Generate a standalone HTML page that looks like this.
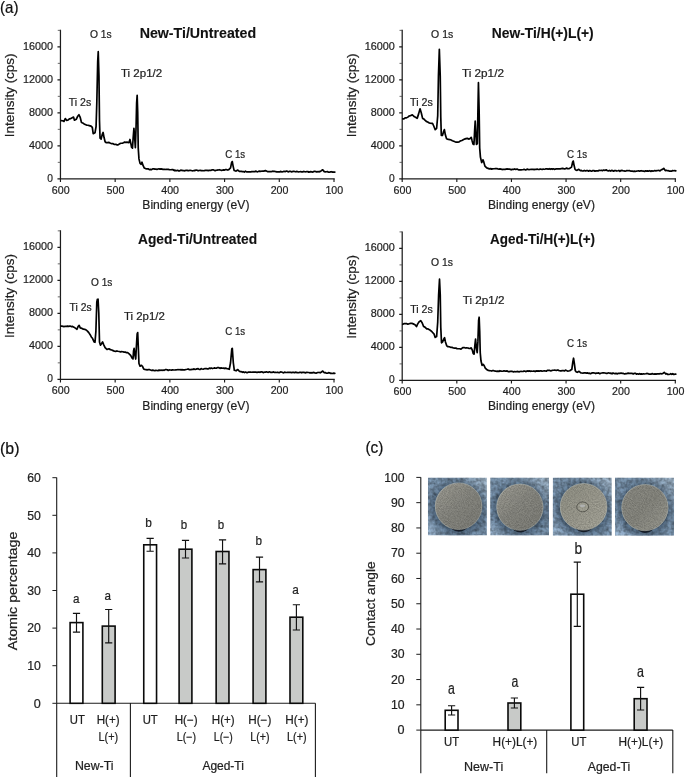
<!DOCTYPE html>
<html lang="en"><head><meta charset="utf-8"><title>XPS spectra, atomic percentage and contact angle</title>
<style>
html,body{margin:0;padding:0;background:#fff;}
body{width:685px;height:777px;overflow:hidden;}
svg{display:block;will-change:transform;font-family:"Liberation Sans",sans-serif;}
</style></head><body>
<svg width="685" height="777" viewBox="0 0 685 777">
<defs>
<filter id="nz" x="0" y="0" width="100%" height="100%"><feTurbulence type="fractalNoise" baseFrequency="0.28" numOctaves="2" seed="3" result="n"/><feColorMatrix in="n" type="matrix" values="0 0 0 0 0  0 0 0 0 0  0 0 0 0 0  0.9 0.9 0.9 0 -1.1"/><feComposite in2="SourceGraphic" operator="in"/></filter>
<filter id="nz2" x="0" y="0" width="100%" height="100%"><feTurbulence type="fractalNoise" baseFrequency="0.25" numOctaves="2" seed="11" result="n"/><feColorMatrix in="n" type="matrix" values="0 0 0 0 0  0 0 0 0 0  0 0 0 0 0  0.9 0.9 0.9 0 -1.1"/><feComposite in2="SourceGraphic" operator="in"/></filter>
<filter id="nzd" x="0" y="0" width="100%" height="100%"><feTurbulence type="fractalNoise" baseFrequency="0.95" numOctaves="2" seed="5" result="n"/><feColorMatrix in="n" type="matrix" values="0 0 0 0 0  0 0 0 0 0  0 0 0 0 0  1.2 1.2 1.2 0 -1.5"/><feComposite in2="SourceGraphic" operator="in"/></filter>
<filter id="halo" x="-50%" y="-50%" width="200%" height="200%"><feGaussianBlur stdDeviation="4.5"/></filter>
<filter id="bl2" x="-50%" y="-50%" width="200%" height="200%"><feGaussianBlur stdDeviation="0.6"/></filter>
<linearGradient id="bg" x1="0" y1="1" x2="1" y2="0"><stop offset="0" stop-color="#aac7e3"/><stop offset="0.3" stop-color="#86a2be"/><stop offset="0.7" stop-color="#839eb8"/><stop offset="1" stop-color="#acc2d6"/></linearGradient>
<linearGradient id="d1" x1="0.1" y1="0.1" x2="0.8" y2="0.9"><stop offset="0" stop-color="#9f9e95"/><stop offset="0.5" stop-color="#8b8b84"/><stop offset="1" stop-color="#83837c"/></linearGradient>
<linearGradient id="d3" x1="0.1" y1="0.1" x2="0.9" y2="0.9"><stop offset="0" stop-color="#96968a"/><stop offset="0.5" stop-color="#a09f93"/><stop offset="1" stop-color="#aaa99d"/></linearGradient>
<linearGradient id="d4" x1="0.1" y1="0.1" x2="0.9" y2="0.9"><stop offset="0" stop-color="#8e8e86"/><stop offset="0.5" stop-color="#8a8a82"/><stop offset="1" stop-color="#9a9a91"/></linearGradient>
</defs>
<rect width="685" height="777" fill="#fff"/>
<path d="M60.45 29.85V178.85H334.70" fill="none" stroke="#1c1c1c" stroke-width="1.25"/>
<path d="M57.45 178.85H60.45M57.45 145.85H60.45M57.45 112.85H60.45M57.45 79.85H60.45M57.45 46.85H60.45M60.45 178.85V181.95M115.16 178.85V181.95M169.87 178.85V181.95M224.58 178.85V181.95M279.29 178.85V181.95M334.00 178.85V181.95" fill="none" stroke="#1c1c1c" stroke-width="1.15"/>
<path d="M57.75 162.35H60.45M57.75 129.35H60.45M57.75 96.35H60.45M57.75 63.35H60.45M57.75 30.35H60.45" fill="none" stroke="#444" stroke-width="0.8"/>
<text x="47.35" y="181.85" font-size="11.0" textLength="5.71" lengthAdjust="spacingAndGlyphs" fill="#1f1f1f" stroke="#1f1f1f" stroke-width="0.22">0</text>
<text x="29.05" y="148.85" font-size="11.0" textLength="24.00" lengthAdjust="spacingAndGlyphs" fill="#1f1f1f" stroke="#1f1f1f" stroke-width="0.22">4000</text>
<text x="29.05" y="115.85" font-size="11.0" textLength="24.00" lengthAdjust="spacingAndGlyphs" fill="#1f1f1f" stroke="#1f1f1f" stroke-width="0.22">8000</text>
<text x="22.95" y="82.85" font-size="11.0" textLength="30.11" lengthAdjust="spacingAndGlyphs" fill="#1f1f1f" stroke="#1f1f1f" stroke-width="0.22">12000</text>
<text x="22.95" y="49.85" font-size="11.0" textLength="30.11" lengthAdjust="spacingAndGlyphs" fill="#1f1f1f" stroke="#1f1f1f" stroke-width="0.22">16000</text>
<text x="51.85" y="193.65" font-size="11.0" textLength="17.78" lengthAdjust="spacingAndGlyphs" fill="#1f1f1f" stroke="#1f1f1f" stroke-width="0.22">600</text>
<text x="106.56" y="193.65" font-size="11.0" textLength="17.78" lengthAdjust="spacingAndGlyphs" fill="#1f1f1f" stroke="#1f1f1f" stroke-width="0.22">500</text>
<text x="161.27" y="193.65" font-size="11.0" textLength="17.78" lengthAdjust="spacingAndGlyphs" fill="#1f1f1f" stroke="#1f1f1f" stroke-width="0.22">400</text>
<text x="215.98" y="193.65" font-size="11.0" textLength="17.78" lengthAdjust="spacingAndGlyphs" fill="#1f1f1f" stroke="#1f1f1f" stroke-width="0.22">300</text>
<text x="270.69" y="193.65" font-size="11.0" textLength="17.78" lengthAdjust="spacingAndGlyphs" fill="#1f1f1f" stroke="#1f1f1f" stroke-width="0.22">200</text>
<text x="325.40" y="193.65" font-size="11.0" textLength="17.78" lengthAdjust="spacingAndGlyphs" fill="#1f1f1f" stroke="#1f1f1f" stroke-width="0.22">100</text>
<path d="M61.31 120.72 L62.66 120.75 L64.01 121.44 L65.27 118.56 L66.71 120.36 L68.06 119.95 L69.41 118.92 L70.77 118.62 L72.12 117.84 L73.56 117.12 L74.46 120.18 L76.26 119.28 L77.52 116.58 L78.96 114.77 L80.23 117.48 L81.49 122.52 L82.66 122.93 L83.83 123.78 L85.18 124.41 L86.53 125.05 L87.88 125.27 L89.23 125.59 L91.04 126.13 L92.30 127.39 L93.20 133.69 L95.00 132.79 L96.08 126.49 L96.80 103.06 L97.70 61.62 L98.24 51.71 L98.96 76.04 L99.50 121.08 L100.05 138.20 L101.13 139.10 L102.21 134.59 L103.11 132.43 L104.01 137.30 L105.09 141.80 L106.35 142.70 L107.70 142.66 L109.05 142.34 L110.41 143.23 L111.76 143.60 L113.11 143.69 L114.46 144.50 L115.81 144.35 L117.16 145.05 L118.51 144.63 L119.86 143.60 L121.07 143.24 L122.27 143.24 L123.47 142.70 L124.67 142.07 L125.87 142.29 L127.07 142.16 L128.87 142.70 L129.95 139.46 L130.68 142.70 L131.58 147.21 L132.48 148.11 L133.20 137.30 L133.92 128.29 L134.64 137.30 L135.36 147.75 L136.08 126.49 L136.62 103.06 L137.16 95.32 L137.70 112.07 L138.24 148.11 L138.96 158.92 L140.05 163.42 L141.13 164.32 L142.03 162.16 L142.93 165.23 L144.19 167.93 L145.54 168.58 L146.89 168.83 L148.09 168.76 L149.29 169.59 L150.50 169.37 L151.58 169.66 L152.66 168.80 L153.74 168.73 L154.82 169.12 L155.90 169.01 L156.93 169.46 L157.96 169.01 L158.99 168.91 L160.02 169.14 L161.05 168.84 L162.08 169.07 L163.11 169.37 L164.14 169.36 L165.17 169.47 L166.20 169.28 L167.23 169.33 L168.26 169.37 L169.29 169.64 L170.32 169.73 L171.49 169.63 L172.66 169.48 L173.83 170.30 L175.00 170.09 L174.51 170.60 L175.56 170.63 L176.61 170.69 L177.65 170.26 L178.70 170.96 L179.75 170.82 L180.79 170.14 L181.84 170.31 L182.89 170.63 L183.93 170.60 L184.98 170.79 L186.03 170.30 L187.08 170.35 L188.08 170.67 L189.09 170.54 L190.09 170.23 L191.10 170.50 L192.10 170.78 L193.11 170.76 L194.11 170.47 L195.12 170.57 L196.12 170.08 L197.13 170.29 L198.13 170.80 L199.14 170.48 L200.14 170.28 L201.15 170.63 L202.15 170.60 L203.16 170.75 L204.16 170.69 L205.17 170.39 L206.17 170.41 L207.18 170.44 L208.18 170.65 L209.19 170.39 L210.19 170.24 L211.20 170.29 L212.20 169.84 L213.21 169.82 L214.21 170.38 L215.22 170.60 L216.22 170.22 L217.23 170.10 L218.28 169.96 L219.33 169.71 L220.38 169.97 L221.43 170.35 L222.48 170.12 L223.53 169.86 L224.58 170.10 L225.63 169.49 L226.68 169.70 L227.73 170.05 L228.78 169.60 L230.54 167.84 L231.55 162.81 L232.30 161.56 L233.06 165.83 L234.06 170.35 L235.07 170.80 L236.07 171.11 L237.83 170.10 L239.34 171.36 L240.34 171.40 L241.35 171.32 L242.35 171.61 L243.40 171.65 L244.45 172.02 L245.49 171.16 L246.54 171.86 L247.59 171.90 L248.63 171.96 L249.68 171.82 L250.73 171.89 L251.77 171.62 L252.82 171.66 L253.87 171.54 L254.91 171.61 L256.01 171.15 L257.11 171.82 L258.21 171.48 L259.31 171.09 L260.41 171.30 L261.51 171.22 L262.61 171.04 L263.71 171.11 L265.47 170.60 L266.47 170.97 L267.48 171.61 L268.51 171.64 L269.55 171.72 L270.58 171.71 L271.62 171.57 L272.65 171.18 L273.68 171.36 L274.72 171.32 L275.75 171.68 L276.79 171.93 L277.82 171.88 L278.86 171.88 L279.89 171.89 L280.93 171.39 L281.96 171.92 L283.00 171.76 L284.03 171.23 L285.07 171.61 L286.10 171.19 L287.13 171.20 L288.17 171.88 L289.20 171.44 L290.24 171.33 L291.27 171.81 L292.31 171.57 L293.34 171.34 L294.38 171.43 L295.41 171.78 L296.45 171.47 L297.48 171.58 L298.51 171.99 L299.55 171.77 L300.58 171.67 L301.62 171.82 L302.65 171.86 L303.67 171.43 L304.69 171.76 L305.72 171.79 L306.74 171.58 L307.76 171.51 L308.78 172.22 L309.80 171.87 L310.82 171.60 L311.84 171.95 L312.86 172.14 L313.88 171.43 L314.90 171.43 L315.92 171.54 L316.94 172.06 L317.96 171.55 L318.98 171.86 L320.24 171.42 L321.50 170.60 L322.75 169.85 L324.26 171.61 L325.32 171.82 L326.37 171.75 L327.43 171.51 L328.48 172.24 L329.54 172.13 L330.59 171.92 L331.65 171.71 L332.70 172.14 L333.76 171.97 L334.81 172.11" fill="none" stroke="#000" stroke-width="1.7" stroke-linejoin="round" stroke-linecap="round"/>
<text x="139.70" y="38.30" font-size="14" textLength="116.40" lengthAdjust="spacingAndGlyphs" font-weight="bold" fill="#111" stroke="#111" stroke-width="0.12">New-Ti/Untreated</text>
<text x="90.00" y="37.70" font-size="10.6" textLength="21.72" lengthAdjust="spacingAndGlyphs" fill="#1f1f1f" stroke="#1f1f1f" stroke-width="0.22">O 1s</text>
<text x="121.00" y="76.90" font-size="10.6" textLength="41.21" lengthAdjust="spacingAndGlyphs" fill="#1f1f1f" stroke="#1f1f1f" stroke-width="0.22">Ti 2p1/2</text>
<text x="68.70" y="105.50" font-size="10.6" textLength="22.50" lengthAdjust="spacingAndGlyphs" fill="#1f1f1f" stroke="#1f1f1f" stroke-width="0.22">Ti 2s</text>
<text x="225.30" y="157.50" font-size="10.6" textLength="19.91" lengthAdjust="spacingAndGlyphs" fill="#1f1f1f" stroke="#1f1f1f" stroke-width="0.22">C 1s</text>
<g transform="translate(14.40,137.30) rotate(-90)"><text x="0.00" y="0.00" font-size="13.0" textLength="83.89" lengthAdjust="spacingAndGlyphs" fill="#1f1f1f" stroke="#1f1f1f" stroke-width="0.22">Intensity (cps)</text></g>
<path d="M402.20 29.85V178.85H676.00" fill="none" stroke="#1c1c1c" stroke-width="1.25"/>
<path d="M399.20 178.85H402.20M399.20 145.85H402.20M399.20 112.85H402.20M399.20 79.85H402.20M399.20 46.85H402.20M402.20 178.85V181.95M456.82 178.85V181.95M511.44 178.85V181.95M566.06 178.85V181.95M620.68 178.85V181.95M675.30 178.85V181.95" fill="none" stroke="#1c1c1c" stroke-width="1.15"/>
<path d="M399.50 162.35H402.20M399.50 129.35H402.20M399.50 96.35H402.20M399.50 63.35H402.20M399.50 30.35H402.20" fill="none" stroke="#444" stroke-width="0.8"/>
<text x="389.10" y="181.85" font-size="11.0" textLength="5.71" lengthAdjust="spacingAndGlyphs" fill="#1f1f1f" stroke="#1f1f1f" stroke-width="0.22">0</text>
<text x="370.80" y="148.85" font-size="11.0" textLength="24.00" lengthAdjust="spacingAndGlyphs" fill="#1f1f1f" stroke="#1f1f1f" stroke-width="0.22">4000</text>
<text x="370.80" y="115.85" font-size="11.0" textLength="24.00" lengthAdjust="spacingAndGlyphs" fill="#1f1f1f" stroke="#1f1f1f" stroke-width="0.22">8000</text>
<text x="364.70" y="82.85" font-size="11.0" textLength="30.11" lengthAdjust="spacingAndGlyphs" fill="#1f1f1f" stroke="#1f1f1f" stroke-width="0.22">12000</text>
<text x="364.70" y="49.85" font-size="11.0" textLength="30.11" lengthAdjust="spacingAndGlyphs" fill="#1f1f1f" stroke="#1f1f1f" stroke-width="0.22">16000</text>
<text x="393.60" y="193.65" font-size="11.0" textLength="17.78" lengthAdjust="spacingAndGlyphs" fill="#1f1f1f" stroke="#1f1f1f" stroke-width="0.22">600</text>
<text x="448.22" y="193.65" font-size="11.0" textLength="17.78" lengthAdjust="spacingAndGlyphs" fill="#1f1f1f" stroke="#1f1f1f" stroke-width="0.22">500</text>
<text x="502.84" y="193.65" font-size="11.0" textLength="17.78" lengthAdjust="spacingAndGlyphs" fill="#1f1f1f" stroke="#1f1f1f" stroke-width="0.22">400</text>
<text x="557.46" y="193.65" font-size="11.0" textLength="17.78" lengthAdjust="spacingAndGlyphs" fill="#1f1f1f" stroke="#1f1f1f" stroke-width="0.22">300</text>
<text x="612.08" y="193.65" font-size="11.0" textLength="17.78" lengthAdjust="spacingAndGlyphs" fill="#1f1f1f" stroke="#1f1f1f" stroke-width="0.22">200</text>
<text x="666.70" y="193.65" font-size="11.0" textLength="17.78" lengthAdjust="spacingAndGlyphs" fill="#1f1f1f" stroke="#1f1f1f" stroke-width="0.22">100</text>
<path d="M402.77 118.92 L403.94 118.79 L405.11 117.84 L406.46 117.88 L407.81 117.12 L409.16 116.00 L410.51 115.68 L412.32 114.77 L414.12 116.58 L415.92 117.48 L417.18 118.38 L418.62 113.87 L420.06 108.83 L421.32 112.97 L422.59 118.38 L423.76 118.91 L424.93 120.18 L426.28 121.38 L427.63 121.98 L428.98 122.82 L430.33 123.24 L431.41 123.40 L432.50 123.24 L433.94 126.49 L435.20 129.73 L436.64 128.29 L437.72 115.68 L438.44 76.04 L439.34 49.37 L440.24 76.04 L440.78 117.48 L441.32 135.50 L442.41 135.50 L443.49 131.89 L444.39 129.55 L445.29 134.59 L446.55 138.74 L448.35 139.46 L449.70 139.56 L451.05 140.00 L452.41 140.73 L453.76 141.26 L455.11 141.81 L456.46 142.16 L457.81 142.06 L459.16 141.80 L460.51 140.86 L461.86 140.54 L463.22 139.76 L464.57 139.10 L465.92 138.64 L467.27 138.38 L469.07 139.10 L470.33 138.20 L471.23 137.30 L472.14 140.90 L473.04 144.14 L473.94 144.50 L474.66 130.09 L475.20 121.08 L475.92 133.69 L476.46 144.50 L477.36 143.60 L477.90 112.07 L478.44 82.70 L479.16 112.07 L479.70 148.11 L480.42 157.12 L481.68 162.52 L482.95 159.82 L483.85 162.16 L484.93 166.13 L486.73 167.93 L488.05 168.37 L489.37 168.85 L490.69 168.65 L491.72 169.10 L492.75 168.79 L493.78 168.75 L494.81 168.65 L495.84 168.49 L496.87 168.53 L497.90 169.01 L498.93 169.03 L499.96 168.95 L500.99 169.06 L502.02 169.57 L503.05 169.29 L504.08 169.37 L505.11 169.37 L506.14 169.13 L507.17 168.94 L508.20 169.21 L509.23 169.04 L510.26 169.38 L511.29 169.82 L512.32 169.37 L513.49 169.44 L514.66 168.90 L515.83 169.45 L517.00 169.01 L518.03 169.60 L519.03 169.84 L520.04 169.76 L521.04 169.89 L522.05 169.73 L523.05 169.73 L524.06 169.32 L525.06 169.85 L526.07 169.81 L527.07 169.07 L528.08 169.35 L529.08 169.56 L530.09 169.51 L531.09 169.26 L532.10 169.31 L533.10 169.25 L534.11 169.63 L535.11 169.23 L536.12 169.51 L537.12 169.06 L538.13 169.52 L539.13 169.52 L540.14 169.11 L541.14 169.19 L542.15 169.49 L543.15 169.10 L544.16 169.28 L545.16 169.05 L546.17 168.79 L547.17 168.87 L548.18 169.19 L549.18 168.69 L550.19 169.35 L551.19 168.75 L552.20 169.31 L553.20 168.76 L554.21 169.32 L555.21 169.08 L556.22 168.88 L557.22 168.88 L558.23 168.84 L559.28 168.93 L560.33 168.83 L561.38 168.54 L562.43 168.40 L563.48 168.63 L564.53 168.96 L565.58 168.64 L566.63 168.10 L567.68 168.72 L568.73 168.59 L569.78 168.34 L571.54 167.09 L572.55 162.31 L573.30 161.06 L574.06 165.33 L575.06 169.35 L576.07 170.22 L577.07 170.35 L578.83 169.35 L580.34 170.60 L581.34 170.41 L582.35 170.99 L583.35 170.85 L584.40 170.46 L585.45 170.99 L586.49 170.65 L587.54 170.61 L588.59 171.19 L589.63 170.50 L590.68 170.87 L591.73 171.17 L592.77 170.62 L593.82 170.59 L594.87 171.20 L595.91 170.85 L597.01 170.72 L598.11 170.92 L599.21 170.24 L600.31 170.48 L601.41 170.24 L602.51 170.63 L603.61 170.04 L604.71 170.35 L606.47 169.85 L607.47 170.76 L608.48 170.85 L609.51 170.43 L610.55 171.06 L611.58 170.42 L612.62 170.63 L613.65 171.14 L614.68 170.55 L615.72 170.57 L616.75 171.03 L617.79 170.75 L618.82 170.44 L619.86 171.30 L620.89 170.54 L621.93 170.44 L622.96 170.71 L624.00 170.96 L625.03 171.07 L626.07 170.85 L627.10 170.52 L628.13 170.74 L629.17 170.48 L630.20 170.87 L631.24 171.17 L632.27 171.16 L633.31 171.32 L634.34 171.20 L635.38 171.31 L636.41 171.19 L637.45 170.99 L638.48 170.78 L639.51 171.19 L640.55 170.90 L641.58 170.72 L642.62 171.04 L643.65 171.11 L644.67 171.43 L645.69 170.74 L646.72 171.13 L647.74 170.95 L648.76 171.04 L649.78 170.69 L650.80 171.41 L651.82 170.76 L652.84 171.06 L653.86 170.88 L654.88 170.50 L655.90 170.97 L656.92 170.58 L657.94 170.49 L658.96 170.45 L659.98 170.85 L661.24 169.80 L662.50 169.35 L663.75 168.34 L665.26 170.60 L666.32 170.26 L667.37 170.77 L668.43 170.69 L669.48 171.14 L670.54 171.12 L671.59 171.20 L672.65 170.54 L673.70 170.75 L674.76 170.60 L675.81 170.85" fill="none" stroke="#000" stroke-width="1.7" stroke-linejoin="round" stroke-linecap="round"/>
<text x="491.80" y="38.30" font-size="14" textLength="101.91" lengthAdjust="spacingAndGlyphs" font-weight="bold" fill="#111" stroke="#111" stroke-width="0.12">New-Ti/H(+)L(+)</text>
<text x="431.10" y="37.70" font-size="10.6" textLength="22.12" lengthAdjust="spacingAndGlyphs" fill="#1f1f1f" stroke="#1f1f1f" stroke-width="0.22">O 1s</text>
<text x="462.00" y="77.20" font-size="10.6" textLength="41.91" lengthAdjust="spacingAndGlyphs" fill="#1f1f1f" stroke="#1f1f1f" stroke-width="0.22">Ti 2p1/2</text>
<text x="410.10" y="105.50" font-size="10.6" textLength="22.70" lengthAdjust="spacingAndGlyphs" fill="#1f1f1f" stroke="#1f1f1f" stroke-width="0.22">Ti 2s</text>
<text x="567.00" y="157.50" font-size="10.6" textLength="20.01" lengthAdjust="spacingAndGlyphs" fill="#1f1f1f" stroke="#1f1f1f" stroke-width="0.22">C 1s</text>
<g transform="translate(356.00,137.30) rotate(-90)"><text x="0.00" y="0.00" font-size="13.0" textLength="83.89" lengthAdjust="spacingAndGlyphs" fill="#1f1f1f" stroke="#1f1f1f" stroke-width="0.22">Intensity (cps)</text></g>
<path d="M60.45 230.35V379.35H334.70" fill="none" stroke="#1c1c1c" stroke-width="1.25"/>
<path d="M57.45 379.35H60.45M57.45 346.35H60.45M57.45 313.35H60.45M57.45 280.35H60.45M57.45 247.35H60.45M60.45 379.35V382.45M115.16 379.35V382.45M169.87 379.35V382.45M224.58 379.35V382.45M279.29 379.35V382.45M334.00 379.35V382.45" fill="none" stroke="#1c1c1c" stroke-width="1.15"/>
<path d="M57.75 362.85H60.45M57.75 329.85H60.45M57.75 296.85H60.45M57.75 263.85H60.45M57.75 230.85H60.45" fill="none" stroke="#444" stroke-width="0.8"/>
<text x="47.35" y="382.35" font-size="11.0" textLength="5.71" lengthAdjust="spacingAndGlyphs" fill="#1f1f1f" stroke="#1f1f1f" stroke-width="0.22">0</text>
<text x="29.05" y="349.35" font-size="11.0" textLength="24.00" lengthAdjust="spacingAndGlyphs" fill="#1f1f1f" stroke="#1f1f1f" stroke-width="0.22">4000</text>
<text x="29.05" y="316.35" font-size="11.0" textLength="24.00" lengthAdjust="spacingAndGlyphs" fill="#1f1f1f" stroke="#1f1f1f" stroke-width="0.22">8000</text>
<text x="22.95" y="283.35" font-size="11.0" textLength="30.11" lengthAdjust="spacingAndGlyphs" fill="#1f1f1f" stroke="#1f1f1f" stroke-width="0.22">12000</text>
<text x="22.95" y="250.35" font-size="11.0" textLength="30.11" lengthAdjust="spacingAndGlyphs" fill="#1f1f1f" stroke="#1f1f1f" stroke-width="0.22">16000</text>
<text x="51.85" y="394.15" font-size="11.0" textLength="17.78" lengthAdjust="spacingAndGlyphs" fill="#1f1f1f" stroke="#1f1f1f" stroke-width="0.22">600</text>
<text x="106.56" y="394.15" font-size="11.0" textLength="17.78" lengthAdjust="spacingAndGlyphs" fill="#1f1f1f" stroke="#1f1f1f" stroke-width="0.22">500</text>
<text x="161.27" y="394.15" font-size="11.0" textLength="17.78" lengthAdjust="spacingAndGlyphs" fill="#1f1f1f" stroke="#1f1f1f" stroke-width="0.22">400</text>
<text x="215.98" y="394.15" font-size="11.0" textLength="17.78" lengthAdjust="spacingAndGlyphs" fill="#1f1f1f" stroke="#1f1f1f" stroke-width="0.22">300</text>
<text x="270.69" y="394.15" font-size="11.0" textLength="17.78" lengthAdjust="spacingAndGlyphs" fill="#1f1f1f" stroke="#1f1f1f" stroke-width="0.22">200</text>
<text x="325.40" y="394.15" font-size="11.0" textLength="17.78" lengthAdjust="spacingAndGlyphs" fill="#1f1f1f" stroke="#1f1f1f" stroke-width="0.22">100</text>
<path d="M60.95 326.05 L61.97 325.99 L62.99 326.45 L64.01 326.59 L65.21 326.29 L66.41 326.32 L67.61 326.05 L68.81 326.34 L70.02 326.01 L71.22 326.59 L72.57 326.42 L73.92 327.13 L75.72 328.39 L76.98 329.29 L78.06 326.59 L79.14 325.32 L80.23 327.85 L82.03 328.39 L83.38 329.14 L84.73 329.29 L86.08 329.97 L87.43 331.09 L88.78 332.65 L90.14 334.69 L91.31 336.94 L92.48 338.30 L94.10 341.90 L95.00 342.26 L95.90 331.09 L96.80 302.26 L97.34 299.38 L98.06 299.20 L98.78 313.07 L99.50 341.90 L100.41 345.14 L101.49 343.70 L102.57 341.90 L103.65 344.60 L105.09 347.67 L106.89 349.47 L107.97 349.08 L109.05 348.75 L110.41 349.68 L111.76 350.01 L113.11 350.62 L114.46 351.27 L115.66 351.40 L116.86 350.96 L118.06 351.27 L119.26 351.51 L120.47 351.84 L121.67 351.63 L122.87 351.77 L124.07 352.09 L125.27 351.99 L126.47 352.69 L127.67 352.68 L128.87 353.61 L130.68 355.41 L132.12 358.12 L133.02 359.02 L133.56 350.91 L134.10 348.39 L134.82 354.51 L135.72 359.02 L136.44 345.50 L137.16 333.79 L137.70 332.53 L138.24 345.50 L138.96 363.52 L140.05 366.23 L141.49 365.32 L142.39 366.23 L143.65 368.93 L144.82 369.52 L145.99 369.65 L147.12 369.82 L148.24 369.65 L149.37 369.50 L150.50 370.01 L151.58 370.41 L152.66 370.13 L153.74 370.42 L154.82 370.64 L155.90 370.37 L156.93 370.51 L157.96 370.65 L158.99 370.12 L160.02 370.43 L161.05 370.06 L162.08 370.45 L163.11 370.01 L164.14 370.35 L165.17 369.65 L166.20 369.68 L167.23 369.75 L168.26 370.43 L169.29 369.95 L170.32 370.01 L171.49 370.12 L172.66 369.83 L173.83 370.02 L175.00 370.01 L176.01 369.79 L177.03 369.77 L178.03 369.59 L179.04 369.75 L180.04 369.70 L181.05 369.94 L182.05 369.69 L183.06 369.86 L184.06 369.74 L185.07 369.81 L186.07 369.48 L187.08 369.27 L188.08 368.95 L189.09 369.56 L190.09 369.64 L191.10 369.57 L192.10 369.25 L193.11 369.36 L194.11 368.89 L195.12 369.44 L196.12 369.19 L197.13 368.91 L198.13 368.69 L199.14 369.39 L200.14 369.49 L201.15 368.67 L202.15 369.02 L203.18 369.22 L204.21 368.80 L205.23 368.50 L206.26 368.56 L207.29 368.92 L208.32 368.94 L209.35 368.13 L210.37 368.57 L211.40 367.99 L212.43 368.53 L213.46 368.27 L214.53 367.93 L215.59 368.23 L216.66 368.13 L217.73 367.51 L218.86 367.71 L219.99 368.34 L221.12 367.91 L222.25 368.27 L223.26 367.99 L224.26 368.56 L225.27 368.15 L226.27 368.40 L227.28 368.77 L228.28 368.94 L229.29 369.27 L230.54 362.74 L231.80 348.92 L232.30 348.42 L233.31 362.74 L234.31 370.28 L236.07 370.78 L237.83 369.52 L239.34 371.28 L240.34 371.72 L241.35 371.64 L242.35 372.29 L243.40 371.85 L244.45 372.58 L245.49 372.06 L246.54 372.62 L247.59 372.54 L248.63 372.05 L249.68 372.10 L250.73 372.14 L251.77 372.23 L252.82 372.16 L253.87 372.11 L254.91 372.04 L255.95 372.16 L256.98 372.46 L258.02 372.09 L259.05 372.03 L260.09 372.31 L261.12 371.89 L262.16 371.96 L263.19 372.58 L264.23 372.19 L265.26 372.23 L266.30 371.76 L267.33 372.14 L268.36 372.30 L269.40 371.81 L270.43 372.36 L271.47 372.39 L272.50 372.29 L273.51 371.90 L274.51 372.42 L275.52 372.29 L276.52 372.49 L277.53 372.20 L278.53 372.53 L279.54 372.57 L280.54 371.94 L281.55 371.98 L282.55 372.55 L283.56 372.81 L284.56 372.18 L285.57 372.38 L286.57 372.51 L287.58 372.28 L288.58 372.32 L289.59 372.29 L290.59 372.35 L291.60 372.56 L292.60 372.31 L293.61 372.39 L294.61 372.75 L295.62 372.09 L296.62 372.59 L297.63 372.54 L298.66 372.76 L299.68 372.39 L300.71 372.32 L301.74 372.86 L302.77 372.36 L303.80 372.32 L304.82 372.56 L305.85 372.81 L306.88 372.28 L307.91 372.49 L308.93 372.51 L309.96 372.97 L310.99 372.63 L312.02 373.02 L313.05 372.41 L314.07 372.57 L315.10 372.87 L316.13 373.09 L317.16 372.71 L318.19 372.52 L319.21 372.44 L320.24 372.79 L321.50 371.94 L322.75 371.03 L324.26 372.79 L325.32 372.56 L326.37 373.17 L327.43 373.24 L328.48 372.71 L329.54 372.84 L330.59 373.37 L331.65 373.27 L332.70 373.47 L333.76 373.10 L334.81 373.29" fill="none" stroke="#000" stroke-width="1.7" stroke-linejoin="round" stroke-linecap="round"/>
<text x="138.00" y="244.20" font-size="14" textLength="119.19" lengthAdjust="spacingAndGlyphs" font-weight="bold" fill="#111" stroke="#111" stroke-width="0.12">Aged-Ti/Untreated</text>
<text x="91.00" y="285.50" font-size="10.6" textLength="21.32" lengthAdjust="spacingAndGlyphs" fill="#1f1f1f" stroke="#1f1f1f" stroke-width="0.22">O 1s</text>
<text x="124.00" y="320.10" font-size="10.6" textLength="40.81" lengthAdjust="spacingAndGlyphs" fill="#1f1f1f" stroke="#1f1f1f" stroke-width="0.22">Ti 2p1/2</text>
<text x="69.60" y="310.60" font-size="10.6" textLength="22.00" lengthAdjust="spacingAndGlyphs" fill="#1f1f1f" stroke="#1f1f1f" stroke-width="0.22">Ti 2s</text>
<text x="225.30" y="334.80" font-size="10.6" textLength="19.91" lengthAdjust="spacingAndGlyphs" fill="#1f1f1f" stroke="#1f1f1f" stroke-width="0.22">C 1s</text>
<text x="142.30" y="410.00" font-size="13.0" textLength="107.18" lengthAdjust="spacingAndGlyphs" fill="#1f1f1f" stroke="#1f1f1f" stroke-width="0.22">Binding energy (eV)</text>
<g transform="translate(14.40,338.00) rotate(-90)"><text x="0.00" y="0.00" font-size="13.0" textLength="83.89" lengthAdjust="spacingAndGlyphs" fill="#1f1f1f" stroke="#1f1f1f" stroke-width="0.22">Intensity (cps)</text></g>
<path d="M402.20 231.40V380.40H676.00" fill="none" stroke="#1c1c1c" stroke-width="1.25"/>
<path d="M399.20 380.40H402.20M399.20 347.40H402.20M399.20 314.40H402.20M399.20 281.40H402.20M399.20 248.40H402.20M402.20 380.40V383.50M456.82 380.40V383.50M511.44 380.40V383.50M566.06 380.40V383.50M620.68 380.40V383.50M675.30 380.40V383.50" fill="none" stroke="#1c1c1c" stroke-width="1.15"/>
<path d="M399.50 363.90H402.20M399.50 330.90H402.20M399.50 297.90H402.20M399.50 264.90H402.20M399.50 231.90H402.20" fill="none" stroke="#444" stroke-width="0.8"/>
<text x="389.10" y="383.40" font-size="11.0" textLength="5.71" lengthAdjust="spacingAndGlyphs" fill="#1f1f1f" stroke="#1f1f1f" stroke-width="0.22">0</text>
<text x="370.80" y="350.40" font-size="11.0" textLength="24.00" lengthAdjust="spacingAndGlyphs" fill="#1f1f1f" stroke="#1f1f1f" stroke-width="0.22">4000</text>
<text x="370.80" y="317.40" font-size="11.0" textLength="24.00" lengthAdjust="spacingAndGlyphs" fill="#1f1f1f" stroke="#1f1f1f" stroke-width="0.22">8000</text>
<text x="364.70" y="284.40" font-size="11.0" textLength="30.11" lengthAdjust="spacingAndGlyphs" fill="#1f1f1f" stroke="#1f1f1f" stroke-width="0.22">12000</text>
<text x="364.70" y="251.40" font-size="11.0" textLength="30.11" lengthAdjust="spacingAndGlyphs" fill="#1f1f1f" stroke="#1f1f1f" stroke-width="0.22">16000</text>
<text x="393.60" y="395.20" font-size="11.0" textLength="17.78" lengthAdjust="spacingAndGlyphs" fill="#1f1f1f" stroke="#1f1f1f" stroke-width="0.22">600</text>
<text x="448.22" y="395.20" font-size="11.0" textLength="17.78" lengthAdjust="spacingAndGlyphs" fill="#1f1f1f" stroke="#1f1f1f" stroke-width="0.22">500</text>
<text x="502.84" y="395.20" font-size="11.0" textLength="17.78" lengthAdjust="spacingAndGlyphs" fill="#1f1f1f" stroke="#1f1f1f" stroke-width="0.22">400</text>
<text x="557.46" y="395.20" font-size="11.0" textLength="17.78" lengthAdjust="spacingAndGlyphs" fill="#1f1f1f" stroke="#1f1f1f" stroke-width="0.22">300</text>
<text x="612.08" y="395.20" font-size="11.0" textLength="17.78" lengthAdjust="spacingAndGlyphs" fill="#1f1f1f" stroke="#1f1f1f" stroke-width="0.22">200</text>
<text x="666.70" y="395.20" font-size="11.0" textLength="17.78" lengthAdjust="spacingAndGlyphs" fill="#1f1f1f" stroke="#1f1f1f" stroke-width="0.22">100</text>
<path d="M402.77 324.24 L403.94 323.65 L405.11 323.52 L406.46 323.53 L407.81 324.24 L409.16 323.70 L410.51 323.34 L411.86 323.30 L413.22 323.88 L415.02 324.78 L416.46 326.59 L417.72 323.88 L419.16 321.72 L420.78 320.64 L422.23 322.98 L423.67 326.59 L424.93 327.13 L426.73 328.93 L428.08 328.90 L429.43 329.65 L430.78 330.73 L432.14 331.99 L433.94 333.79 L435.20 337.40 L436.64 336.50 L437.72 322.08 L438.62 295.05 L439.52 279.20 L440.24 295.05 L440.78 327.49 L441.50 342.80 L442.59 341.90 L443.67 339.20 L444.57 337.76 L445.47 341.90 L446.73 345.86 L447.99 346.69 L449.25 346.77 L450.60 347.31 L451.95 347.31 L453.31 348.00 L454.66 348.21 L455.86 348.14 L457.06 348.60 L458.26 348.75 L459.61 348.73 L460.96 349.11 L462.77 347.67 L464.12 347.55 L465.47 348.03 L466.67 347.79 L467.87 348.01 L469.07 348.39 L470.15 348.50 L471.23 347.85 L472.32 350.01 L473.22 353.61 L474.12 354.15 L474.84 345.50 L475.56 339.20 L476.28 347.31 L477.18 352.71 L477.90 341.90 L478.62 320.28 L479.16 317.22 L479.70 331.09 L480.24 352.71 L480.96 360.82 L482.05 365.32 L483.13 364.42 L484.03 365.32 L485.29 368.03 L487.09 369.83 L488.29 370.43 L489.49 370.71 L490.69 370.73 L491.72 371.05 L492.75 370.56 L493.78 370.71 L494.81 371.05 L495.84 371.20 L496.87 371.36 L497.90 371.09 L498.93 371.43 L499.96 370.72 L500.99 371.19 L502.02 371.24 L503.05 371.10 L504.08 370.80 L505.11 371.09 L506.14 371.12 L507.17 370.82 L508.20 371.64 L509.23 371.62 L510.26 371.39 L511.29 371.22 L512.32 371.45 L513.49 371.82 L514.66 371.52 L515.83 371.79 L517.00 371.45 L518.03 371.53 L519.03 371.82 L520.04 371.49 L521.04 371.38 L522.05 371.52 L523.05 371.34 L524.06 371.08 L525.06 371.18 L526.07 371.61 L527.07 370.90 L528.08 371.28 L529.08 370.86 L530.09 371.36 L531.09 371.03 L532.10 371.25 L533.10 371.17 L534.11 371.04 L535.11 371.61 L536.12 370.87 L537.12 371.05 L538.13 370.85 L539.13 371.22 L540.14 370.88 L541.14 370.93 L542.15 371.27 L543.15 371.03 L544.20 370.81 L545.24 370.96 L546.29 371.21 L547.34 370.42 L548.39 370.32 L549.43 370.41 L550.48 370.83 L551.53 370.63 L552.57 370.23 L553.62 370.25 L554.67 370.05 L555.71 370.28 L556.79 370.28 L557.87 369.94 L558.94 370.56 L560.02 370.78 L561.10 370.87 L562.17 370.70 L563.25 370.53 L564.34 370.98 L565.43 370.18 L566.52 370.46 L567.61 371.11 L568.70 370.98 L569.78 370.78 L570.79 370.07 L571.79 369.52 L572.80 362.24 L573.55 358.22 L574.31 363.24 L575.31 370.78 L576.32 371.93 L577.32 372.29 L579.08 371.28 L580.84 372.79 L581.92 372.97 L582.99 373.22 L584.07 372.82 L585.15 372.80 L586.22 373.10 L587.30 372.89 L588.38 373.29 L589.41 373.18 L590.45 373.71 L591.48 373.14 L592.52 372.85 L593.55 372.88 L594.58 372.99 L595.62 373.55 L596.65 373.17 L597.69 373.10 L598.72 372.93 L599.76 373.73 L600.79 373.22 L601.83 373.03 L602.86 372.89 L603.90 372.89 L604.93 372.99 L605.96 373.29 L606.97 373.46 L607.97 373.00 L608.98 372.92 L609.98 373.33 L610.99 373.13 L611.99 373.81 L613.00 373.04 L614.01 373.42 L615.01 373.65 L616.02 373.34 L617.02 373.87 L618.03 373.42 L619.03 373.22 L620.04 373.39 L621.04 373.06 L622.05 373.42 L623.05 373.28 L624.06 373.87 L625.06 373.83 L626.07 373.54 L627.10 373.56 L628.13 373.15 L629.17 373.37 L630.20 373.37 L631.24 373.35 L632.27 373.39 L633.31 373.98 L634.34 373.34 L635.38 373.27 L636.41 374.08 L637.45 373.76 L638.48 374.16 L639.51 373.65 L640.55 374.11 L641.58 373.90 L642.62 374.04 L643.65 373.79 L644.69 374.01 L645.72 373.79 L646.76 373.43 L647.79 373.53 L648.83 374.13 L649.86 374.15 L650.90 374.18 L651.93 373.65 L652.96 373.94 L654.00 374.06 L655.03 373.92 L656.07 374.08 L657.10 373.82 L658.14 373.93 L659.17 373.96 L660.21 373.59 L661.24 373.79 L662.25 373.67 L663.25 373.20 L664.26 372.29 L665.76 374.05 L666.77 373.66 L667.77 374.47 L668.78 374.46 L669.78 374.20 L670.79 373.64 L671.79 374.40 L672.80 373.71 L673.80 374.47 L674.81 374.20 L675.81 374.05" fill="none" stroke="#000" stroke-width="1.7" stroke-linejoin="round" stroke-linecap="round"/>
<text x="490.00" y="244.40" font-size="14" textLength="105.00" lengthAdjust="spacingAndGlyphs" font-weight="bold" fill="#111" stroke="#111" stroke-width="0.12">Aged-Ti/H(+)L(+)</text>
<text x="431.10" y="266.40" font-size="10.6" textLength="21.92" lengthAdjust="spacingAndGlyphs" fill="#1f1f1f" stroke="#1f1f1f" stroke-width="0.22">O 1s</text>
<text x="462.80" y="303.60" font-size="10.6" textLength="41.81" lengthAdjust="spacingAndGlyphs" fill="#1f1f1f" stroke="#1f1f1f" stroke-width="0.22">Ti 2p1/2</text>
<text x="410.20" y="313.00" font-size="10.6" textLength="22.60" lengthAdjust="spacingAndGlyphs" fill="#1f1f1f" stroke="#1f1f1f" stroke-width="0.22">Ti 2s</text>
<text x="567.00" y="347.00" font-size="10.6" textLength="20.01" lengthAdjust="spacingAndGlyphs" fill="#1f1f1f" stroke="#1f1f1f" stroke-width="0.22">C 1s</text>
<text x="488.00" y="410.00" font-size="13.0" textLength="106.98" lengthAdjust="spacingAndGlyphs" fill="#1f1f1f" stroke="#1f1f1f" stroke-width="0.22">Binding energy (eV)</text>
<g transform="translate(356.00,338.80) rotate(-90)"><text x="0.00" y="0.00" font-size="13.0" textLength="83.89" lengthAdjust="spacingAndGlyphs" fill="#1f1f1f" stroke="#1f1f1f" stroke-width="0.22">Intensity (cps)</text></g>
<text x="142.30" y="209.30" font-size="13.0" textLength="107.18" lengthAdjust="spacingAndGlyphs" fill="#1f1f1f" stroke="#1f1f1f" stroke-width="0.22">Binding energy (eV)</text>
<text x="488.00" y="209.30" font-size="13.0" textLength="106.98" lengthAdjust="spacingAndGlyphs" fill="#1f1f1f" stroke="#1f1f1f" stroke-width="0.22">Binding energy (eV)</text>
<text x="0.00" y="12.80" font-size="17.0" textLength="18.53" lengthAdjust="spacingAndGlyphs" fill="#111" stroke="#111" stroke-width="0.22">(a)</text>
<text x="0.00" y="453.50" font-size="17.0" textLength="19.44" lengthAdjust="spacingAndGlyphs" fill="#111" stroke="#111" stroke-width="0.22">(b)</text>
<text x="365.40" y="453.40" font-size="17.0" textLength="17.92" lengthAdjust="spacingAndGlyphs" fill="#111" stroke="#111" stroke-width="0.22">(c)</text>
<path d="M56.7 477.4V777M56.2 703.3H315.4M130.4 703.3V777M315.4 703.3V777" fill="none" stroke="#1c1c1c" stroke-width="1.1"/>
<text x="33.80" y="707.50" font-size="12.6" textLength="7.01" lengthAdjust="spacingAndGlyphs" fill="#1f1f1f" stroke="#1f1f1f" stroke-width="0.22">0</text>
<text x="27.20" y="669.90" font-size="12.6" textLength="13.63" lengthAdjust="spacingAndGlyphs" fill="#1f1f1f" stroke="#1f1f1f" stroke-width="0.22">10</text>
<text x="27.20" y="632.30" font-size="12.6" textLength="13.63" lengthAdjust="spacingAndGlyphs" fill="#1f1f1f" stroke="#1f1f1f" stroke-width="0.22">20</text>
<text x="27.20" y="594.70" font-size="12.6" textLength="13.63" lengthAdjust="spacingAndGlyphs" fill="#1f1f1f" stroke="#1f1f1f" stroke-width="0.22">30</text>
<text x="27.20" y="557.10" font-size="12.6" textLength="13.63" lengthAdjust="spacingAndGlyphs" fill="#1f1f1f" stroke="#1f1f1f" stroke-width="0.22">40</text>
<text x="27.20" y="519.50" font-size="12.6" textLength="13.63" lengthAdjust="spacingAndGlyphs" fill="#1f1f1f" stroke="#1f1f1f" stroke-width="0.22">50</text>
<text x="27.20" y="481.90" font-size="12.6" textLength="13.63" lengthAdjust="spacingAndGlyphs" fill="#1f1f1f" stroke="#1f1f1f" stroke-width="0.22">60</text>
<path d="M52.40 703.30H56.7M52.40 665.70H56.7M52.40 628.10H56.7M52.40 590.50H56.7M52.40 552.90H56.7M52.40 515.30H56.7M52.40 477.70H56.7" fill="none" stroke="#1c1c1c" stroke-width="1"/>
<g transform="translate(16.80,650.30) rotate(-90)"><text x="0.00" y="0.00" font-size="12.4" textLength="118.67" lengthAdjust="spacingAndGlyphs" fill="#1f1f1f" stroke="#1f1f1f" stroke-width="0.22">Atomic percentage</text></g>
<rect x="70.10" y="622.60" width="12.80" height="80.70" fill="#fff" stroke="#0a0a0a" stroke-width="1.6"/>
<path d="M76.50 613.30V632.10M72.90 613.30h7.2M72.90 632.10h7.2" fill="none" stroke="#111" stroke-width="1.15"/>
<rect x="102.30" y="626.10" width="12.80" height="77.20" fill="#c8cac8" stroke="#0a0a0a" stroke-width="1.6"/>
<path d="M108.70 609.50V642.90M105.10 609.50h7.2M105.10 642.90h7.2" fill="none" stroke="#111" stroke-width="1.15"/>
<rect x="143.75" y="544.80" width="12.80" height="158.50" fill="#fff" stroke="#0a0a0a" stroke-width="1.6"/>
<path d="M150.15 538.40V551.20M146.55 538.40h7.2M146.55 551.20h7.2" fill="none" stroke="#111" stroke-width="1.15"/>
<rect x="179.10" y="549.20" width="12.80" height="154.10" fill="#c8cac8" stroke="#0a0a0a" stroke-width="1.6"/>
<path d="M185.50 540.40V558.00M181.90 540.40h7.2M181.90 558.00h7.2" fill="none" stroke="#111" stroke-width="1.15"/>
<rect x="216.15" y="551.50" width="12.80" height="151.80" fill="#c8cac8" stroke="#0a0a0a" stroke-width="1.6"/>
<path d="M222.55 539.90V563.80M218.95 539.90h7.2M218.95 563.80h7.2" fill="none" stroke="#111" stroke-width="1.15"/>
<rect x="253.10" y="569.60" width="12.80" height="133.70" fill="#c8cac8" stroke="#0a0a0a" stroke-width="1.6"/>
<path d="M259.50 557.10V581.90M255.90 557.10h7.2M255.90 581.90h7.2" fill="none" stroke="#111" stroke-width="1.15"/>
<rect x="290.00" y="617.20" width="12.80" height="86.10" fill="#c8cac8" stroke="#0a0a0a" stroke-width="1.6"/>
<path d="M296.40 604.70V630.00M292.80 604.70h7.2M292.80 630.00h7.2" fill="none" stroke="#111" stroke-width="1.15"/>
<text x="73.00" y="602.60" font-size="12.2" textLength="6.46" lengthAdjust="spacingAndGlyphs" fill="#1f1f1f" stroke="#1f1f1f" stroke-width="0.22">a</text>
<text x="104.60" y="599.60" font-size="12.2" textLength="6.46" lengthAdjust="spacingAndGlyphs" fill="#1f1f1f" stroke="#1f1f1f" stroke-width="0.22">a</text>
<text x="145.30" y="527.00" font-size="12.2" textLength="6.61" lengthAdjust="spacingAndGlyphs" fill="#1f1f1f" stroke="#1f1f1f" stroke-width="0.22">b</text>
<text x="180.80" y="528.80" font-size="12.2" textLength="6.41" lengthAdjust="spacingAndGlyphs" fill="#1f1f1f" stroke="#1f1f1f" stroke-width="0.22">b</text>
<text x="217.80" y="528.80" font-size="12.2" textLength="6.41" lengthAdjust="spacingAndGlyphs" fill="#1f1f1f" stroke="#1f1f1f" stroke-width="0.22">b</text>
<text x="255.40" y="544.80" font-size="12.2" textLength="6.51" lengthAdjust="spacingAndGlyphs" fill="#1f1f1f" stroke="#1f1f1f" stroke-width="0.22">b</text>
<text x="292.30" y="593.60" font-size="12.2" textLength="6.55" lengthAdjust="spacingAndGlyphs" fill="#1f1f1f" stroke="#1f1f1f" stroke-width="0.22">a</text>
<text x="69.80" y="724.30" font-size="11.9" textLength="15.08" lengthAdjust="spacingAndGlyphs" fill="#1f1f1f" stroke="#1f1f1f" stroke-width="0.22">UT</text>
<text x="96.70" y="724.30" font-size="11.9" textLength="22.93" lengthAdjust="spacingAndGlyphs" fill="#1f1f1f" stroke="#1f1f1f" stroke-width="0.22">H(+)</text>
<text x="98.50" y="740.80" font-size="11.9" textLength="19.61" lengthAdjust="spacingAndGlyphs" fill="#1f1f1f" stroke="#1f1f1f" stroke-width="0.22">L(+)</text>
<text x="142.70" y="724.30" font-size="11.9" textLength="15.08" lengthAdjust="spacingAndGlyphs" fill="#1f1f1f" stroke="#1f1f1f" stroke-width="0.22">UT</text>
<text x="174.70" y="724.30" font-size="11.9" textLength="23.03" lengthAdjust="spacingAndGlyphs" fill="#1f1f1f" stroke="#1f1f1f" stroke-width="0.22">H(−)</text>
<text x="176.70" y="740.80" font-size="11.9" textLength="19.31" lengthAdjust="spacingAndGlyphs" fill="#1f1f1f" stroke="#1f1f1f" stroke-width="0.22">L(−)</text>
<text x="211.80" y="724.30" font-size="11.9" textLength="22.83" lengthAdjust="spacingAndGlyphs" fill="#1f1f1f" stroke="#1f1f1f" stroke-width="0.22">H(+)</text>
<text x="213.80" y="740.80" font-size="11.9" textLength="19.01" lengthAdjust="spacingAndGlyphs" fill="#1f1f1f" stroke="#1f1f1f" stroke-width="0.22">L(−)</text>
<text x="248.20" y="724.30" font-size="11.9" textLength="23.13" lengthAdjust="spacingAndGlyphs" fill="#1f1f1f" stroke="#1f1f1f" stroke-width="0.22">H(−)</text>
<text x="250.30" y="740.80" font-size="11.9" textLength="19.31" lengthAdjust="spacingAndGlyphs" fill="#1f1f1f" stroke="#1f1f1f" stroke-width="0.22">L(+)</text>
<text x="285.30" y="724.30" font-size="11.9" textLength="23.13" lengthAdjust="spacingAndGlyphs" fill="#1f1f1f" stroke="#1f1f1f" stroke-width="0.22">H(+)</text>
<text x="287.10" y="740.80" font-size="11.9" textLength="19.51" lengthAdjust="spacingAndGlyphs" fill="#1f1f1f" stroke="#1f1f1f" stroke-width="0.22">L(+)</text>
<text x="74.90" y="769.80" font-size="11.9" textLength="38.69" lengthAdjust="spacingAndGlyphs" fill="#1f1f1f" stroke="#1f1f1f" stroke-width="0.22">New-Ti</text>
<text x="202.40" y="769.60" font-size="11.9" textLength="41.49" lengthAdjust="spacingAndGlyphs" fill="#1f1f1f" stroke="#1f1f1f" stroke-width="0.22">Aged-Ti</text>
<path d="M420.8 477.2V773.3M420.3 730.1H672.8M546.7 730.1V773.3M672.8 730.1V773.3" fill="none" stroke="#1c1c1c" stroke-width="1.1"/>
<text x="397.60" y="734.20" font-size="12.6" textLength="7.01" lengthAdjust="spacingAndGlyphs" fill="#1f1f1f" stroke="#1f1f1f" stroke-width="0.22">0</text>
<text x="391.00" y="708.93" font-size="12.6" textLength="13.63" lengthAdjust="spacingAndGlyphs" fill="#1f1f1f" stroke="#1f1f1f" stroke-width="0.22">10</text>
<text x="391.00" y="683.66" font-size="12.6" textLength="13.63" lengthAdjust="spacingAndGlyphs" fill="#1f1f1f" stroke="#1f1f1f" stroke-width="0.22">20</text>
<text x="391.00" y="658.39" font-size="12.6" textLength="13.63" lengthAdjust="spacingAndGlyphs" fill="#1f1f1f" stroke="#1f1f1f" stroke-width="0.22">30</text>
<text x="391.00" y="633.12" font-size="12.6" textLength="13.63" lengthAdjust="spacingAndGlyphs" fill="#1f1f1f" stroke="#1f1f1f" stroke-width="0.22">40</text>
<text x="391.00" y="607.85" font-size="12.6" textLength="13.63" lengthAdjust="spacingAndGlyphs" fill="#1f1f1f" stroke="#1f1f1f" stroke-width="0.22">50</text>
<text x="391.00" y="582.58" font-size="12.6" textLength="13.63" lengthAdjust="spacingAndGlyphs" fill="#1f1f1f" stroke="#1f1f1f" stroke-width="0.22">60</text>
<text x="391.00" y="557.31" font-size="12.6" textLength="13.63" lengthAdjust="spacingAndGlyphs" fill="#1f1f1f" stroke="#1f1f1f" stroke-width="0.22">70</text>
<text x="391.00" y="532.04" font-size="12.6" textLength="13.63" lengthAdjust="spacingAndGlyphs" fill="#1f1f1f" stroke="#1f1f1f" stroke-width="0.22">80</text>
<text x="391.00" y="506.77" font-size="12.6" textLength="13.63" lengthAdjust="spacingAndGlyphs" fill="#1f1f1f" stroke="#1f1f1f" stroke-width="0.22">90</text>
<text x="384.30" y="481.50" font-size="12.6" textLength="20.28" lengthAdjust="spacingAndGlyphs" fill="#1f1f1f" stroke="#1f1f1f" stroke-width="0.22">100</text>
<path d="M416.30 730.10H420.8M416.30 704.83H420.8M416.30 679.56H420.8M416.30 654.29H420.8M416.30 629.02H420.8M416.30 603.75H420.8M416.30 578.48H420.8M416.30 553.21H420.8M416.30 527.94H420.8M416.30 502.67H420.8M416.30 477.40H420.8" fill="none" stroke="#1c1c1c" stroke-width="1"/>
<g transform="translate(375.00,646.00) rotate(-90)"><text x="0.00" y="0.00" font-size="12.6" textLength="84.61" lengthAdjust="spacingAndGlyphs" fill="#1f1f1f" stroke="#1f1f1f" stroke-width="0.22">Contact angle</text></g>
<rect x="445.20" y="710.30" width="12.80" height="19.80" fill="#fff" stroke="#0a0a0a" stroke-width="1.6"/>
<path d="M451.60 705.70V715.00M448.00 705.70h7.2M448.00 715.00h7.2" fill="none" stroke="#111" stroke-width="1.15"/>
<rect x="508.00" y="703.00" width="12.80" height="27.10" fill="#c8cac8" stroke="#0a0a0a" stroke-width="1.6"/>
<path d="M514.40 698.00V708.00M510.80 698.00h7.2M510.80 708.00h7.2" fill="none" stroke="#111" stroke-width="1.15"/>
<rect x="570.90" y="594.20" width="12.80" height="135.90" fill="#fff" stroke="#0a0a0a" stroke-width="1.6"/>
<path d="M577.30 562.10V626.30M573.70 562.10h7.2M573.70 626.30h7.2" fill="none" stroke="#111" stroke-width="1.15"/>
<rect x="634.20" y="698.70" width="12.80" height="31.40" fill="#c8cac8" stroke="#0a0a0a" stroke-width="1.6"/>
<path d="M640.60 687.40V710.00M637.00 687.40h7.2M637.00 710.00h7.2" fill="none" stroke="#111" stroke-width="1.15"/>
<text x="448.10" y="694.30" font-size="15.6" textLength="6.85" lengthAdjust="spacingAndGlyphs" fill="#1f1f1f" stroke="#1f1f1f" stroke-width="0.22">a</text>
<text x="511.40" y="686.60" font-size="15.6" textLength="6.85" lengthAdjust="spacingAndGlyphs" fill="#1f1f1f" stroke="#1f1f1f" stroke-width="0.22">a</text>
<text x="574.40" y="554.30" font-size="15.6" textLength="7.62" lengthAdjust="spacingAndGlyphs" fill="#1f1f1f" stroke="#1f1f1f" stroke-width="0.22">b</text>
<text x="637.00" y="677.30" font-size="15.6" textLength="6.95" lengthAdjust="spacingAndGlyphs" fill="#1f1f1f" stroke="#1f1f1f" stroke-width="0.22">a</text>
<text x="444.00" y="745.90" font-size="11.9" textLength="15.08" lengthAdjust="spacingAndGlyphs" fill="#1f1f1f" stroke="#1f1f1f" stroke-width="0.22">UT</text>
<text x="492.60" y="745.90" font-size="11.9" textLength="44.68" lengthAdjust="spacingAndGlyphs" fill="#1f1f1f" stroke="#1f1f1f" stroke-width="0.22">H(+)L(+)</text>
<text x="571.30" y="745.90" font-size="11.9" textLength="15.08" lengthAdjust="spacingAndGlyphs" fill="#1f1f1f" stroke="#1f1f1f" stroke-width="0.22">UT</text>
<text x="618.50" y="745.90" font-size="11.9" textLength="44.78" lengthAdjust="spacingAndGlyphs" fill="#1f1f1f" stroke="#1f1f1f" stroke-width="0.22">H(+)L(+)</text>
<text x="464.00" y="770.50" font-size="11.9" textLength="39.19" lengthAdjust="spacingAndGlyphs" fill="#1f1f1f" stroke="#1f1f1f" stroke-width="0.22">New-Ti</text>
<text x="587.80" y="770.50" font-size="11.9" textLength="42.49" lengthAdjust="spacingAndGlyphs" fill="#1f1f1f" stroke="#1f1f1f" stroke-width="0.22">Aged-Ti</text>
<g><clipPath id="cp1"><rect x="427.9" y="477.5" width="59.0" height="58.0"/></clipPath><g clip-path="url(#cp1)"><rect x="427.9" y="477.5" width="59.0" height="58.0" fill="url(#bg)"/><ellipse cx="457.6" cy="508.7" rx="27.3" ry="26.8" fill="#3e556d" opacity="0.7" filter="url(#halo)"/><rect x="427.9" y="477.5" width="59.0" height="58.0" fill="#2f4358" filter="url(#nz)" opacity="0.4"/><rect x="427.9" y="477.5" width="59.0" height="58.0" fill="#c5d6e6" filter="url(#nz2)" opacity="0.3"/><ellipse cx="458.90000000000003" cy="508.8" rx="15.3" ry="22.900000000000002" fill="#131b26" filter="url(#bl2)"/><ellipse cx="458.6" cy="506.2" rx="23.5" ry="23.3" fill="url(#d1)"/><ellipse cx="458.6" cy="506.2" rx="23.3" ry="23.3" fill="none" stroke="#b8bbb3" stroke-width="0.8" opacity="0.7"/><ellipse cx="458.6" cy="506.2" rx="23.3" ry="23.3" fill="#fff" filter="url(#nzd)" opacity="0.16"/><ellipse cx="458.6" cy="506.2" rx="23.3" ry="23.3" fill="#222" filter="url(#nzd)" opacity="0.12" transform="translate(0.7,0.5)"/></g></g>
<g><clipPath id="cp2"><rect x="490.2" y="477.5" width="58.8" height="58.0"/></clipPath><g clip-path="url(#cp2)"><rect x="490.2" y="477.5" width="58.8" height="58.0" fill="url(#bg)"/><ellipse cx="518.9" cy="509.7" rx="27.1" ry="26.6" fill="#3e556d" opacity="0.7" filter="url(#halo)"/><rect x="490.2" y="477.5" width="58.8" height="58.0" fill="#2f4358" filter="url(#nz)" opacity="0.4"/><rect x="490.2" y="477.5" width="58.8" height="58.0" fill="#c5d6e6" filter="url(#nz2)" opacity="0.3"/><ellipse cx="520.1999999999999" cy="509.8" rx="15.100000000000001" ry="22.700000000000003" fill="#131b26" filter="url(#bl2)"/><ellipse cx="519.9" cy="507.2" rx="23.3" ry="23.1" fill="url(#d1)"/><ellipse cx="519.9" cy="507.2" rx="23.1" ry="23.1" fill="none" stroke="#b8bbb3" stroke-width="0.8" opacity="0.7"/><ellipse cx="519.9" cy="507.2" rx="23.1" ry="23.1" fill="#fff" filter="url(#nzd)" opacity="0.16"/><ellipse cx="519.9" cy="507.2" rx="23.1" ry="23.1" fill="#222" filter="url(#nzd)" opacity="0.12" transform="translate(0.7,0.5)"/></g></g>
<g><clipPath id="cp3"><rect x="552.7" y="477.5" width="59.1" height="58.2"/></clipPath><g clip-path="url(#cp3)"><rect x="552.7" y="477.5" width="59.1" height="58.2" fill="url(#bg)"/><ellipse cx="582.6" cy="509.3" rx="27.3" ry="26.8" fill="#3e556d" opacity="0.7" filter="url(#halo)"/><rect x="552.7" y="477.5" width="59.1" height="58.2" fill="#2f4358" filter="url(#nz)" opacity="0.4"/><rect x="552.7" y="477.5" width="59.1" height="58.2" fill="#c5d6e6" filter="url(#nz2)" opacity="0.3"/><ellipse cx="583.9" cy="509.40000000000003" rx="15.3" ry="22.900000000000002" fill="#131b26" filter="url(#bl2)"/><ellipse cx="583.6" cy="506.8" rx="23.5" ry="23.3" fill="url(#d3)"/><ellipse cx="583.6" cy="506.8" rx="23.3" ry="23.3" fill="none" stroke="#b8bbb3" stroke-width="0.8" opacity="0.7"/><ellipse cx="583.6" cy="506.8" rx="23.3" ry="23.3" fill="#fff" filter="url(#nzd)" opacity="0.16"/><ellipse cx="583.6" cy="506.8" rx="23.3" ry="23.3" fill="#222" filter="url(#nzd)" opacity="0.12" transform="translate(0.7,0.5)"/><ellipse cx="582.70" cy="506.90" rx="5.9" ry="4.9" fill="#a9a89c" fill-opacity="0.35" stroke="#55554e" stroke-width="0.95"/><ellipse cx="582.40" cy="505.80" rx="2.8" ry="1.4" fill="#c3c7cf" opacity="0.5"/></g></g>
<g><clipPath id="cp4"><rect x="615.0" y="477.5" width="59.1" height="58.2"/></clipPath><g clip-path="url(#cp4)"><rect x="615.0" y="477.5" width="59.1" height="58.2" fill="url(#bg)"/><ellipse cx="643.9" cy="510.1" rx="27.1" ry="26.6" fill="#3e556d" opacity="0.7" filter="url(#halo)"/><rect x="615.0" y="477.5" width="59.1" height="58.2" fill="#2f4358" filter="url(#nz)" opacity="0.4"/><rect x="615.0" y="477.5" width="59.1" height="58.2" fill="#c5d6e6" filter="url(#nz2)" opacity="0.3"/><ellipse cx="645.1999999999999" cy="510.20000000000005" rx="15.100000000000001" ry="22.700000000000003" fill="#131b26" filter="url(#bl2)"/><ellipse cx="644.9" cy="507.6" rx="23.3" ry="23.1" fill="url(#d4)"/><ellipse cx="644.9" cy="507.6" rx="23.1" ry="23.1" fill="none" stroke="#b8bbb3" stroke-width="0.8" opacity="0.7"/><ellipse cx="644.9" cy="507.6" rx="23.1" ry="23.1" fill="#fff" filter="url(#nzd)" opacity="0.16"/><ellipse cx="644.9" cy="507.6" rx="23.1" ry="23.1" fill="#222" filter="url(#nzd)" opacity="0.12" transform="translate(0.7,0.5)"/></g></g>
</svg>
</body></html>
